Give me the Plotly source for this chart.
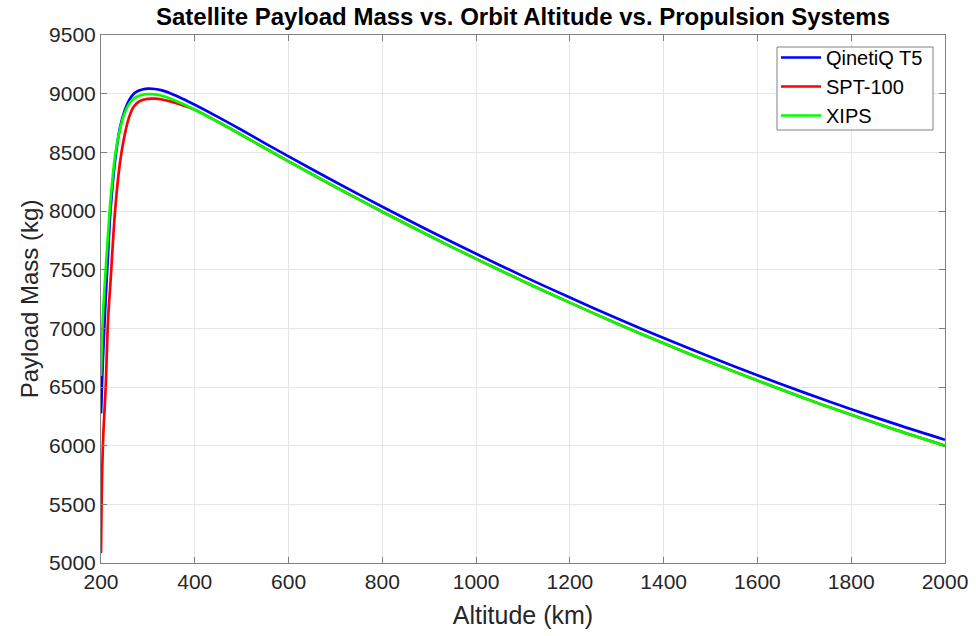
import plotly.graph_objects as go

# Orbit altitude samples (km)
altitude_km = [200, 201, 202, 205, 210, 215, 220, 230, 240, 250, 260, 270, 280, 290,
               300, 315, 330, 350, 375, 400, 450, 500, 550, 600, 700, 800, 900,
               1000, 1100, 1200, 1300, 1400, 1500, 1600, 1700, 1800, 1900, 2000]

# Payload mass (kg) for each propulsion system
qinetiq_t5 = [6275, 6380, 6520, 6820, 7260, 7630, 7990, 8430, 8700, 8850, 8945, 9000,
              9025, 9038, 9043, 9040, 9028, 9000, 8955, 8905, 8800, 8690, 8577, 8465,
              8247, 8036, 7832, 7635, 7445, 7262, 7086, 6917, 6755, 6600, 6452, 6311,
              6177, 6050]
spt_100 = [5085, 5420, 5690, 6100, 6500, 7070, 7380, 8000, 8400, 8640, 8800, 8890,
           8930, 8948, 8956, 8957, 8950, 8932, 8900, 8863, 8758, 8648, 8535, 8423,
           8205, 7994, 7789, 7592, 7402, 7219, 7041, 6872, 6710, 6555, 6405, 6264,
           6128, 6000]
xips = [6595, 6750, 6900, 7180, 7500, 7800, 8080, 8470, 8690, 8830, 8915, 8958,
        8980, 8992, 8997, 8994, 8982, 8955, 8912, 8863, 8758, 8648, 8535, 8423,
        8205, 7994, 7789, 7592, 7402, 7219, 7041, 6872, 6710, 6555, 6405, 6264,
        6128, 6000]

series = [
    ("QinetiQ T5", qinetiq_t5, "#0000ff"),
    ("SPT-100", spt_100, "#ff0000"),
    ("XIPS", xips, "#00ff00"),
]

FONT = "Liberation Sans, Arial, sans-serif"
L, R, T, B = 101, 31, 35, 73
W, H = 976, 636
PW, PH = W - L - R, H - T - B


def px_x(px):
    return (px - L) / PW


def px_y(py):
    return 1 - (py - T) / PH


fig = go.Figure()
for name, values, color in series:
    fig.add_trace(go.Scatter(
        x=altitude_km, y=values, name=name, mode="lines",
        line=dict(color=color, width=2.7, shape="spline", smoothing=0.9),
    ))

axis_common = dict(
    showgrid=True, gridcolor="#e6e6e6", gridwidth=1,
    showline=True, linecolor="#808080", linewidth=1, mirror="ticks",
    ticks="inside", ticklen=6, tickcolor="#808080",
    tickfont=dict(family=FONT, size=21, color="#262626"),
    zeroline=False, automargin=False,
)

# legend frame
fig.add_shape(
    type="rect", xref="paper", yref="paper",
    x0=px_x(777), x1=px_x(933), y0=px_y(130), y1=px_y(47),
    fillcolor="white", line=dict(color="#808080", width=1), layer="above",
)

fig.update_layout(
    width=W, height=H,
    margin=dict(l=L, r=R, t=T, b=B),
    paper_bgcolor="white", plot_bgcolor="white",
    title=dict(
        text="<b>Satellite Payload Mass vs. Orbit Altitude vs. Propulsion Systems</b>",
        x=(L + W - R) / 2 / W, xanchor="center", y=1 - 17 / H, yanchor="middle",
        font=dict(family=FONT, size=24, color="black"),
    ),
    xaxis=dict(
        range=[200, 2000], dtick=200, tick0=200,
        title=dict(text="Altitude (km)", standoff=14,
                   font=dict(family=FONT, size=25, color="#262626")),
        **axis_common,
    ),
    yaxis=dict(
        range=[5000, 9500], dtick=500, tick0=5000,
        title=dict(text="Payload Mass (kg)", standoff=3,
                   font=dict(family=FONT, size=24, color="#262626")),
        **axis_common,
    ),
    legend=dict(
        x=px_x(776), y=px_y(38), xanchor="left", yanchor="top",
        bgcolor="rgba(0,0,0,0)", borderwidth=0,
        font=dict(family=FONT, size=20, color="black"),
        itemwidth=40, tracegroupgap=0,
    ),
    showlegend=True,
)

fig.write_html("out.html")
